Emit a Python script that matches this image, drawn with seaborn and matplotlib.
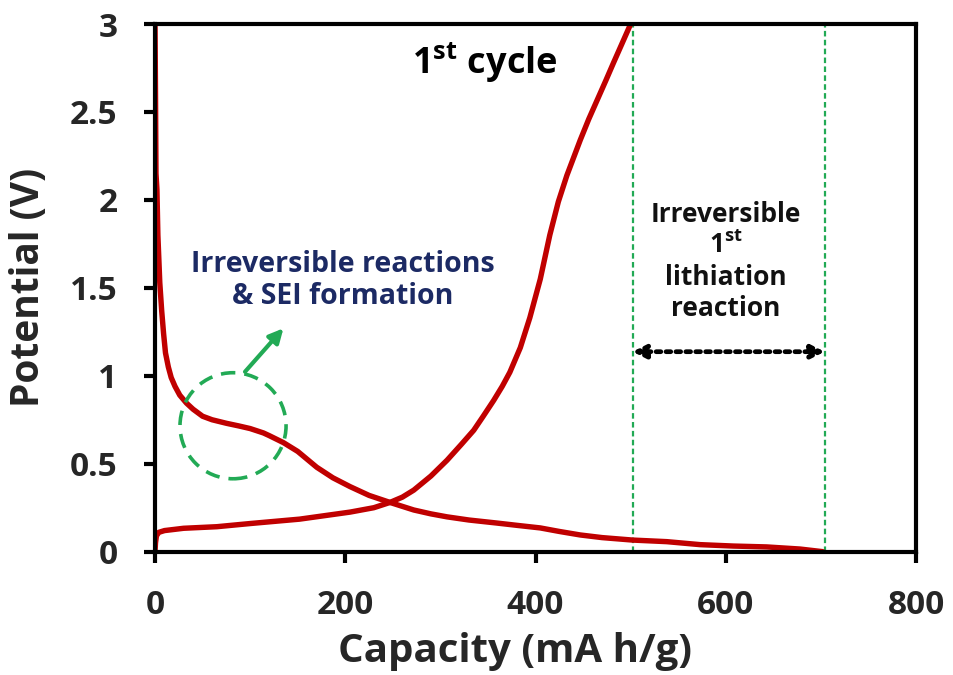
import matplotlib
matplotlib.use("Agg")
import matplotlib.pyplot as plt
from matplotlib.patches import Ellipse
import pandas as pd
import seaborn as sns

# First-cycle galvanostatic profile (capacity in mA h/g, potential in V)
charge_cap = [0, 0.5, 1.5, 4, 10, 30, 65, 100, 152, 205, 230, 247, 260, 272,
              290, 307, 322, 335, 345, 356, 365, 373, 384, 394, 405, 415,
              424, 433, 440, 447, 456, 465, 474, 482, 491, 500]
charge_v = [0.0, 0.05, 0.09, 0.11, 0.12, 0.133, 0.142, 0.16, 0.185, 0.225,
            0.25, 0.28, 0.31, 0.35, 0.43, 0.52, 0.61, 0.69, 0.77, 0.86,
            0.94, 1.02, 1.16, 1.33, 1.55, 1.80, 1.99, 2.14, 2.24, 2.34, 2.46,
            2.57, 2.68, 2.78, 2.89, 3.0]

discharge_cap = [0, 0.5, 1, 2, 3, 5, 7, 9, 11, 14, 17, 21, 26, 33, 40, 50,
                 60, 75, 88, 100, 114, 120, 135, 150, 170, 187, 205, 225,
                 247, 272, 290, 307, 330, 359, 380, 405, 425, 447, 470, 502,
                 538, 573, 608, 643, 678, 702]
discharge_v = [3.0, 2.6, 2.15, 2.06, 1.8, 1.53, 1.37, 1.24, 1.13, 1.05, 0.99,
               0.94, 0.89, 0.845, 0.81, 0.77, 0.75, 0.73, 0.715, 0.70, 0.675,
               0.66, 0.62, 0.57, 0.48, 0.42, 0.37, 0.32, 0.28, 0.237, 0.215,
               0.198, 0.18, 0.163, 0.15, 0.135, 0.115, 0.095, 0.08, 0.066,
               0.057, 0.04, 0.032, 0.027, 0.015, 0.0]

# Capacity bounds of the irreversible first-lithiation region
irrev_bounds = [502, 704]

x_ticks = [0, 200, 400, 600, 800]
y_ticks = [0, 0.5, 1, 1.5, 2, 2.5, 3]
y_tick_labels = ["0", "0.5", "1", "1.5", "2", "2.5", "3"]

sns.set_theme(style="white")
plt.rcParams["font.family"] = ["Open Sans", "DejaVu Sans"]
plt.rcParams["font.weight"] = "bold"
plt.rcParams["mathtext.fontset"] = "custom"
plt.rcParams["mathtext.rm"] = "Open Sans:bold"
plt.rcParams["mathtext.bf"] = "Open Sans:bold"
plt.rcParams["mathtext.it"] = "Open Sans:bold"
plt.rcParams["mathtext.default"] = "bf"

RED = "#c00000"
GREEN = "#22aa55"
NAVY = "#1c2a64"

fig = plt.figure(figsize=(9.54, 6.75), dpi=100)
ax = fig.add_axes([0.1625, 0.1827, 0.7977, 0.7817])

charge = pd.DataFrame({"cap": charge_cap, "v": charge_v})
discharge = pd.DataFrame({"cap": discharge_cap, "v": discharge_v})

sns.lineplot(data=discharge, x="cap", y="v", sort=False, estimator=None,
             color=RED, lw=3.9, ax=ax, zorder=3)
sns.lineplot(data=charge, x="cap", y="v", sort=False, estimator=None,
             color=RED, lw=3.9, ax=ax, zorder=3)
for ln in ax.lines:
    ln.set_solid_joinstyle("round")
    ln.set_solid_capstyle("round")

# Irreversible region boundaries
for xb in irrev_bounds:
    ax.axvline(xb, color=GREEN, lw=1.6, ls=(0, (2.5, 1.5)), zorder=2)

# Double-headed arrow spanning the irreversible capacity
ax.annotate("", xy=(irrev_bounds[0], 1.137), xytext=(irrev_bounds[1], 1.137),
            arrowprops=dict(arrowstyle="<|-|>,head_length=0.65,head_width=0.33",
                            lw=3.4, ls=(0, (1, 1.1)), color="black",
                            shrinkA=0, shrinkB=0), zorder=4)

ax.text(600, 1.65, "Irreversible\n1$^{st}$\nlithiation\nreaction",
        ha="center", va="center", fontsize=19, fontweight="bold",
        color="#111111", linespacing=1.2)

# SEI formation marker
circle = Ellipse((82, 0.716), width=111.5, height=0.603, fill=False,
                 edgecolor=GREEN, lw=2.6, ls=(0, (4, 2.5)), zorder=4)
ax.add_patch(circle)
ax.annotate("", xy=(135, 1.27), xytext=(94.6, 1.023),
            arrowprops=dict(arrowstyle="-|>,head_length=0.7,head_width=0.35",
                            lw=3, color=GREEN, shrinkA=0, shrinkB=0))

ax.text(197, 1.54, "Irreversible reactions\n& SEI formation", ha="center",
        va="center", fontsize=20.5, fontweight="bold", color=NAVY,
        linespacing=1.15)

ax.text(347, 2.78, "1$^{st}$ cycle", ha="center", va="center",
        fontsize=26, fontweight="bold", color="black")

ax.set_xlim(0, 800)
ax.set_ylim(0, 3)
ax.set_xticks(x_ticks)
ax.set_xticklabels([str(t) for t in x_ticks])
ax.set_yticks(y_ticks)
ax.set_yticklabels(y_tick_labels)
ax.tick_params(axis="both", which="major", direction="out", length=8,
               width=3, color="black", labelsize=24, pad=19,
               left=True, bottom=True, right=False, top=False)
for lab in ax.get_xticklabels() + ax.get_yticklabels():
    lab.set_fontweight("bold")

ax.set_xlabel("Capacity (mA h/g)", fontsize=29, fontweight="bold")
ax.xaxis.set_label_coords(0.473, -0.152)
ax.set_ylabel("Potential (V)", fontsize=28, fontweight="bold")
ax.yaxis.set_label_coords(-0.141, 0.5)

for sp in ax.spines.values():
    sp.set_visible(True)
    sp.set_color("black")
    sp.set_linewidth(3)
    sp.set_zorder(5)

fig.savefig("out.png", dpi=100, facecolor="white")
